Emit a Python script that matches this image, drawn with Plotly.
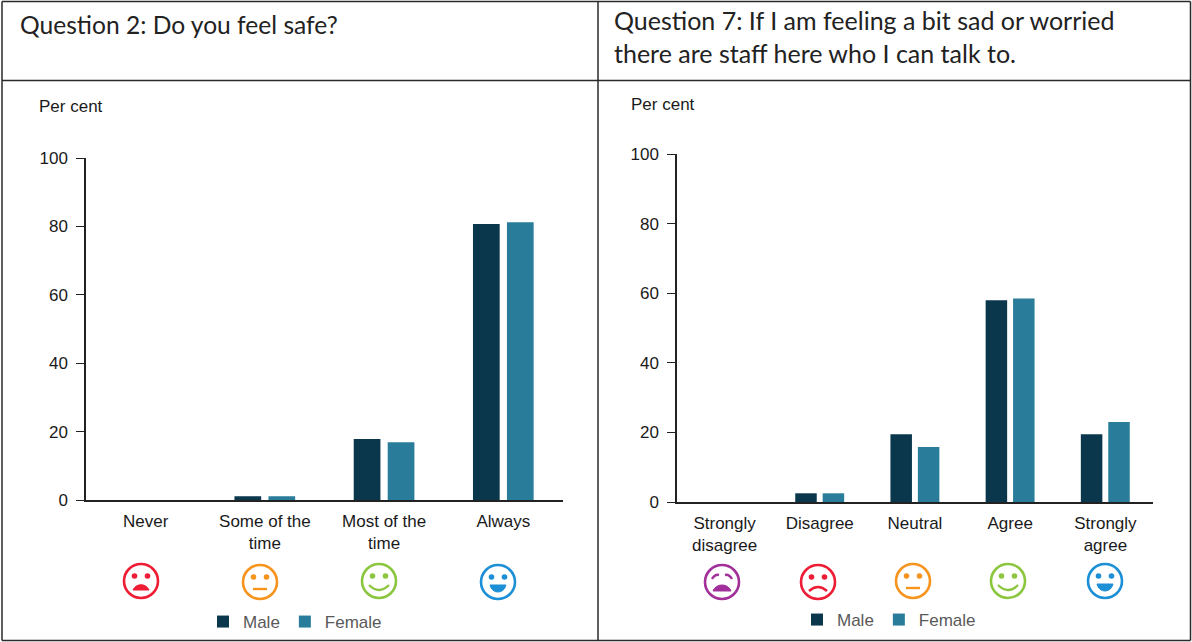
import plotly.graph_objects as go
from plotly.subplots import make_subplots

W, H = 1192, 642

# Survey results, per cent
q2_categories = ["Never", "Some of the<br>time", "Most of the<br>time", "Always"]
q2_male = [0, 1.1, 17.8, 80.7]
q2_female = [0, 1.1, 16.9, 81.2]

q7_categories = ["Strongly<br>disagree", "Disagree", "Neutral", "Agree", "Strongly<br>agree"]
q7_male = [0, 2.5, 19.5, 58.0, 19.5]
q7_female = [0, 2.5, 15.8, 58.5, 23.0]

y_ticks = [0, 20, 40, 60, 80, 100]

q2_title = "Question 2: Do you feel safe?"
q7_title = ("Question 7: If I am feeling a bit sad or worried<br>"
            "there are staff here who I can talk to.")

MALE = "#0b374d"
FEMALE = "#2a7d9a"
INK = "#1a1a1a"
FONT = "Liberation Sans"

RED, ORANGE, GREEN, BLUE, PURPLE = "#ee1c34", "#f7941e", "#8cc63f", "#1c8fd6", "#a1309a"

q2_faces = [(141, 581, RED, "sad"), (260, 582, ORANGE, "flat"),
            (379, 581, GREEN, "smile"), (498, 582, BLUE, "grin")]
q7_faces = [(722, 582, PURPLE, "cry"), (818, 582, RED, "frown"), (913, 581, ORANGE, "flat"),
            (1008, 581, GREEN, "smile"), (1105, 581, BLUE, "grin")]


def px(x):
    return x / W


def py(y):
    return 1 - y / H


def path_from(points):
    """Build an SVG path in paper units from (command, x, y, ...) pixel tuples."""
    parts = []
    for cmd, *vals in points:
        coords = []
        for i in range(0, len(vals), 2):
            coords.append(f"{px(vals[i]):.5f},{py(vals[i + 1]):.5f}")
        parts.append(cmd + " ".join(coords))
    return " ".join(parts)


def face_shapes(cx, cy, color, mood):
    out = []
    r = 17

    def ellipse(rad_x, rad_y, ox, oy, fill=None, width=0):
        out.append(dict(type="circle", xref="paper", yref="paper",
                        x0=px(cx + ox - rad_x), x1=px(cx + ox + rad_x),
                        y0=py(cy + oy + rad_y), y1=py(cy + oy - rad_y),
                        fillcolor=fill or "rgba(0,0,0,0)",
                        line=dict(color=color, width=width)))

    def stroke(points, width=2.4):
        out.append(dict(type="path", xref="paper", yref="paper",
                        path=path_from(points),
                        line=dict(color=color, width=width)))

    def filled(points):
        out.append(dict(type="path", xref="paper", yref="paper",
                        path=path_from(points) + " Z", fillcolor=color,
                        line=dict(color=color, width=1)))

    ellipse(r, r, 0, 0, width=2.6)
    if mood == "cry":
        # Slanted brows over a filled, open mouth
        stroke([("M", cx - 10, cy - 3), ("Q", cx - 7, cy - 8, cx - 3, cy - 7)], 2.4)
        stroke([("M", cx + 10, cy - 3), ("Q", cx + 7, cy - 8, cx + 3, cy - 7)], 2.4)
        filled([("M", cx - 9, cy + 9), ("C", cx - 6, cy + 1, cx + 6, cy + 1, cx + 9, cy + 9)])
        return out
    ellipse(2.8, 2.8, -6.5, -5, fill=color)
    ellipse(2.8, 2.8, 6.5, -5, fill=color)
    if mood == "sad":
        filled([("M", cx - 8, cy + 9), ("C", cx - 5, cy + 2, cx + 5, cy + 2, cx + 8, cy + 9)])
    elif mood == "frown":
        stroke([("M", cx - 9, cy + 9), ("Q", cx, cy + 1, cx + 9, cy + 9)])
    elif mood == "flat":
        stroke([("M", cx - 7, cy + 7), ("L", cx + 7, cy + 7)])
    elif mood == "smile":
        stroke([("M", cx - 10, cy + 4), ("Q", cx, cy + 14, cx + 10, cy + 4)])
    elif mood == "grin":
        filled([("M", cx - 8, cy + 3), ("L", cx + 8, cy + 3),
                ("Q", cx + 6, cy + 10, cx, cy + 10), ("Q", cx - 6, cy + 10, cx - 8, cy + 3)])
    return out


fig = make_subplots(rows=1, cols=2)


def add_panel(col, categories, male, female, width, offsets, legend):
    for name, values, color, offset in (("Male", male, MALE, offsets[0]),
                                        ("Female", female, FEMALE, offsets[1])):
        fig.add_trace(go.Bar(x=categories, y=values, name=name, marker_color=color,
                             marker_line_width=0, width=width, offset=offset,
                             legend=legend, hoverinfo="x+y+name"), row=1, col=col)


add_panel(1, q2_categories, q2_male, q2_female, 0.224, (-0.255, 0.03), "legend")
add_panel(2, q7_categories, q7_male, q7_female, 0.226, (-0.258, 0.03), "legend2")

axis_common = dict(showgrid=False, zeroline=False, showline=True, linecolor="#222222",
                   linewidth=1.5, tickfont=dict(family=FONT, size=17, color=INK))

fig.update_xaxes(domain=[px(86), px(563)], type="category", ticks="",
                 categoryorder="array", categoryarray=q2_categories,
                 tickmode="array", tickvals=q2_categories, ticktext=q2_categories,
                 tickangle=0, ticklabelstandoff=5, row=1, col=1, **axis_common)
fig.update_xaxes(domain=[px(677), px(1153)], type="category", ticks="",
                 categoryorder="array", categoryarray=q7_categories,
                 tickmode="array", tickvals=q7_categories, ticktext=q7_categories,
                 tickangle=0, ticklabelstandoff=5, row=1, col=2, **axis_common)

y_axis_style = dict(range=[0, 100], tickmode="array", tickvals=y_ticks, ticks="outside",
                    ticklen=8, tickwidth=1.2, tickcolor="#222222", ticklabelstandoff=5,
                    **axis_common)
fig.update_yaxes(domain=[py(500), py(158)], row=1, col=1, **y_axis_style)
fig.update_yaxes(domain=[py(502), py(154)], row=1, col=2, **y_axis_style)

# Table rules around the two panels
rules = [(2, 1.5, 2, 640.5), (1190.5, 1.5, 1190.5, 640.5), (2, 1.5, 1190.5, 1.5),
         (2, 640.5, 1190.5, 640.5), (598, 1.5, 598, 640.5), (2, 80.5, 1190.5, 80.5)]
shapes = [dict(type="line", xref="paper", yref="paper",
               x0=px(a), y0=py(b), x1=px(c), y1=py(d),
               line=dict(color="#2a2a2a", width=1.5)) for a, b, c, d in rules]
for face in q2_faces + q7_faces:
    shapes.extend(face_shapes(*face))


def note(x, y, text, size, family, color=INK, anchor="middle"):
    return dict(x=px(x), y=py(y), xref="paper", yref="paper", text=text, showarrow=False,
                xanchor="left", yanchor=anchor, align="left",
                font=dict(family=family, size=size, color=color))


annotations = [
    note(18, 25, q2_title, 24.6, "Lato", "#222222"),
    note(612, 36.5, q7_title, 25, "Lato", "#222222"),
    note(37, 106, "Per cent", 17, FONT),
    note(629, 104, "Per cent", 17, FONT),
]

legend_style = dict(orientation="h", xref="paper", yref="paper", xanchor="left", yanchor="middle",
                    font=dict(family=FONT, size=17, color="#595959"),
                    bgcolor="rgba(0,0,0,0)",
                    itemclick=False, itemdoubleclick=False, tracegroupgap=0)

fig.update_layout(
    width=W, height=H, margin=dict(l=0, r=0, t=0, b=0, autoexpand=False),
    paper_bgcolor="white", plot_bgcolor="white", barmode="group", showlegend=True,
    shapes=shapes, annotations=annotations,
    legend=dict(x=px(203), y=py(622), **legend_style),
    legend2=dict(x=px(797), y=py(620), **legend_style),
)

fig.write_html("out.html", config=dict(displayModeBar=False))
